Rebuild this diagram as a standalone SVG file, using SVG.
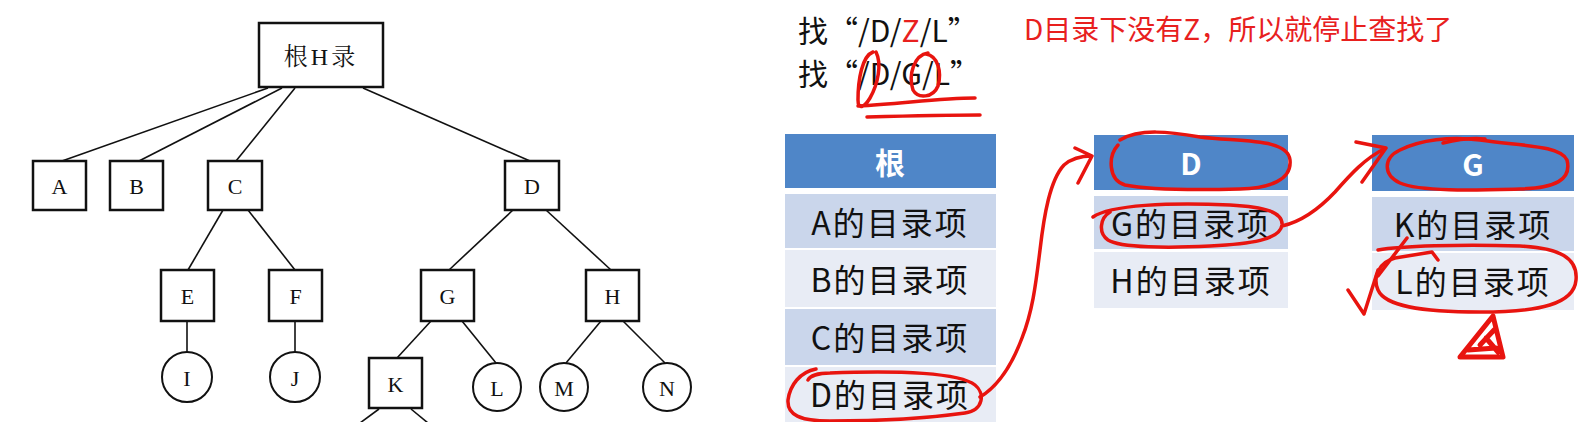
<svg xmlns="http://www.w3.org/2000/svg" width="1586" height="422" viewBox="0 0 1586 422">
<style>
.bx{fill:#fff;stroke:#111;stroke-width:2.5}
.ci{fill:#fff;stroke:#111;stroke-width:2}
.ed{stroke:#111;stroke-width:1.6;fill:none}
.tl{font-family:"Liberation Serif","Noto Serif CJK SC","Noto Sans CJK SC",serif;font-size:22px;fill:#111;text-anchor:middle;dominant-baseline:central}
.hd{fill:#4F86C8}
.r1{fill:#CAD6EB}
.r2{fill:#E8ECF5}
.ht{font-family:"Noto Sans CJK SC","Open Sans",sans-serif;font-weight:bold;font-size:30px;fill:#fff;text-anchor:middle;dominant-baseline:central}
.rt{font-family:"Noto Sans CJK SC",sans-serif;font-size:32px;fill:#111;text-anchor:middle;dominant-baseline:central;letter-spacing:2px}
.qt{font-family:"Noto Sans CJK SC",sans-serif;font-size:30px;fill:#111}
.rd{font-family:"Noto Sans CJK SC",sans-serif;font-size:28px;fill:#E8201E}
.an{fill:none;stroke:#E8140F;stroke-width:3.5;stroke-linecap:round;stroke-linejoin:round}
</style>
<g id="connectors">
<line class="ed" x1="268" y1="88" x2="62" y2="161"/>
<line class="ed" x1="282" y1="88" x2="139" y2="161"/>
<line class="ed" x1="295" y1="88" x2="236" y2="161"/>
<line class="ed" x1="363" y1="88" x2="530" y2="161"/>
<line class="ed" x1="223" y1="210" x2="188" y2="270"/>
<line class="ed" x1="248" y1="210" x2="295" y2="270"/>
<line class="ed" x1="513" y1="210" x2="449" y2="270"/>
<line class="ed" x1="546" y1="210" x2="611" y2="270"/>
<line class="ed" x1="187" y1="321" x2="187" y2="352"/>
<line class="ed" x1="295" y1="321" x2="295" y2="352"/>
<line class="ed" x1="431" y1="321" x2="397" y2="358"/>
<line class="ed" x1="462" y1="321" x2="496" y2="363"/>
<line class="ed" x1="601" y1="321" x2="566" y2="363"/>
<line class="ed" x1="623" y1="321" x2="665" y2="363"/>
<line class="ed" x1="379" y1="409" x2="360" y2="423"/>
<line class="ed" x1="411" y1="409" x2="428" y2="423"/>
</g>
<g id="root"><rect class="bx" x="259" y="23" width="124" height="64"/><text class="tl" x="321" y="57" style="font-size:24px;letter-spacing:3px">根H录</text></g>
<g id="nA"><rect class="bx" x="33" y="161" width="53" height="49"/><text class="tl" x="59.5" y="186">A</text></g>
<g id="nB"><rect class="bx" x="110" y="161" width="53" height="49"/><text class="tl" x="136.5" y="186">B</text></g>
<g id="nC"><rect class="bx" x="208" y="161" width="54" height="49"/><text class="tl" x="235" y="186">C</text></g>
<g id="nD"><rect class="bx" x="505" y="161" width="54" height="49"/><text class="tl" x="532" y="186">D</text></g>
<g id="nE"><rect class="bx" x="161" y="270" width="53" height="51"/><text class="tl" x="187.5" y="296">E</text></g>
<g id="nF"><rect class="bx" x="269" y="270" width="53" height="51"/><text class="tl" x="295.5" y="296">F</text></g>
<g id="nG"><rect class="bx" x="421" y="270" width="53" height="51"/><text class="tl" x="447.5" y="296">G</text></g>
<g id="nH"><rect class="bx" x="586" y="270" width="53" height="51"/><text class="tl" x="612.5" y="296">H</text></g>
<g id="nK"><rect class="bx" x="369" y="358" width="53" height="50"/><text class="tl" x="395.5" y="384">K</text></g>
<g id="nI"><circle class="ci" cx="187" cy="377" r="25"/><text class="tl" x="187" y="378">I</text></g>
<g id="nJ"><circle class="ci" cx="295" cy="377" r="25"/><text class="tl" x="295" y="378">J</text></g>
<g id="nL"><circle class="ci" cx="497" cy="387" r="24"/><text class="tl" x="497" y="388">L</text></g>
<g id="nM"><circle class="ci" cx="564" cy="387" r="24"/><text class="tl" x="564" y="388">M</text></g>
<g id="nN"><circle class="ci" cx="667" cy="387" r="24"/><text class="tl" x="667" y="388">N</text></g>

<g id="query">
<text class="qt" x="798" y="42">找“/D/<tspan fill="#E8201E">Z</tspan>/L”</text>
<text class="qt" x="798" y="85">找“/D/G/L”</text>
<text class="rd" x="1024" y="40">D目录下没有Z，所以就停止查找了</text>
</g>

<g id="table-root">
<rect class="hd" x="785" y="134" width="211" height="54"/><text class="ht" x="890" y="161">根</text>
<rect class="r1" x="785" y="194" width="211" height="54"/><text class="rt" x="890" y="221">A的目录项</text>
<rect class="r2" x="785" y="250" width="211" height="57"/><text class="rt" x="890" y="278">B的目录项</text>
<rect class="r1" x="785" y="309" width="211" height="56"/><text class="rt" x="890" y="336">C的目录项</text>
<rect class="r2" x="785" y="367" width="211" height="55"/><text class="rt" x="890" y="393">D的目录项</text>
</g>
<g id="table-D">
<rect class="hd" x="1094" y="135" width="194" height="55"/><text class="ht" x="1191" y="162">D</text>
<rect class="r1" x="1094" y="196" width="194" height="53"/><text class="rt" x="1191" y="222">G的目录项</text>
<rect class="r2" x="1094" y="252" width="194" height="56"/><text class="rt" x="1191" y="279">H的目录项</text>
</g>
<g id="table-G">
<rect class="hd" x="1372" y="135" width="202" height="56"/><text class="ht" x="1473" y="163">G</text>
<rect class="r1" x="1372" y="197" width="202" height="54"/><text class="rt" x="1473" y="223">K的目录项</text>
<rect class="r2" x="1372" y="253" width="202" height="57"/><text class="rt" x="1473" y="280">L的目录项</text>
</g>

<g id="annotations">
<path class="an" d="M873,52 C862,56 858,80 858,100 C858,110 864,108 870,98 C878,84 882,64 876,52 M858,106 C900,104 940,98 975,98"/>
<path class="an" d="M928,53 C914,55 908,75 913,90 C918,99 933,98 938,86 C942,72 938,56 926,54"/>
<path class="an" d="M867,117 C905,116 945,115 980,115"/>
<path class="an" d="M816,369 C800,372 790,385 788,400 C787,415 800,421 830,421 C880,421 930,418 965,413 C984,410 985,393 975,385 C960,373 900,370 830,373 C818,373 810,376 808,380"/>
<path class="an" d="M980,397 C995,388 1010,370 1022,338 C1033,310 1036,282 1040,250 C1044,215 1050,180 1064,165 C1072,158 1082,156 1092,156 M1075,148 L1092,156 L1078,183"/>
<path class="an" d="M1120,140 C1140,128 1170,132 1200,137 C1240,142 1288,138 1290,160 C1292,180 1270,188 1240,189 C1200,190 1150,190 1125,185 C1108,180 1108,156 1118,145"/>
<path class="an" d="M1093,217 C1110,205 1170,202 1230,205 C1265,207 1283,212 1282,225 C1280,240 1250,244 1210,246 C1170,248 1120,248 1108,240 C1098,233 1100,218 1110,212 M1282,226 C1300,222 1318,210 1335,192 C1350,175 1365,158 1386,148 M1356,142 L1386,148 L1362,182"/>
<path class="an" d="M1443,143 C1460,139 1475,138 1485,139"/>
<path class="an" d="M1400,150 C1420,140 1450,136 1480,140 C1520,146 1560,145 1567,160 C1572,180 1555,188 1520,189 C1480,190 1420,192 1400,183 C1383,175 1383,158 1400,150"/>
<path class="an" d="M1378,250 C1400,246 1460,244 1520,246 C1560,248 1578,258 1576,280 C1574,304 1540,312 1480,312 C1420,312 1385,306 1378,290 C1372,276 1380,262 1395,258 L1432,252 L1438,260"/>
<path class="an" d="M1407,238 L1378,276 M1348,290 L1364,314 L1378,270"/>
<path class="an" style="stroke-width:5" d="M1460,357 L1493,316 L1503,357 Z M1468,350 L1496,348 M1486,338 L1498,352 M1480,345 L1494,330"/>
</g>
</svg>
